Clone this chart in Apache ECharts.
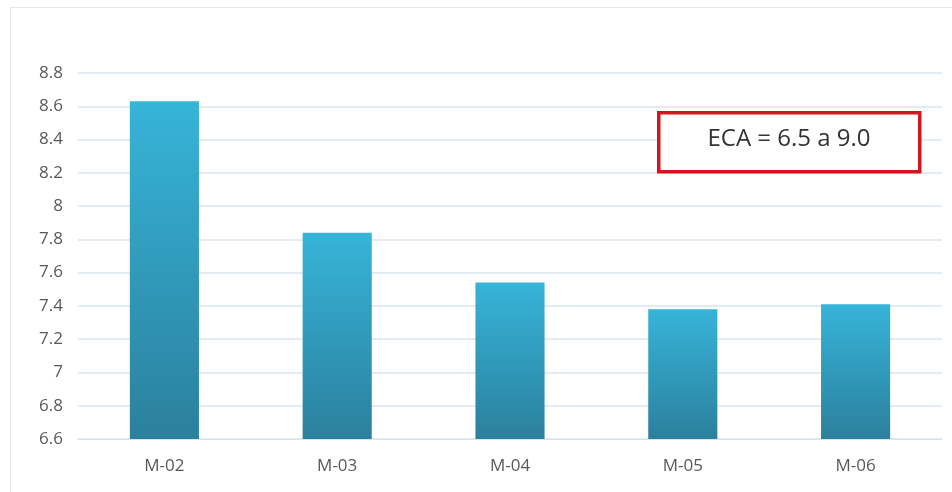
<!DOCTYPE html>
<html>
<head>
<meta charset="utf-8">
<script src="https://cdn.jsdelivr.net/npm/echarts@6/dist/echarts.min.js"></script>
<style>html,body{margin:0;padding:0;background:#fff}#c{width:952px;height:492px}</style>
</head>
<body>
<div id="c"></div>
<script>
var categories = ['M-02', 'M-03', 'M-04', 'M-05', 'M-06'];
var values = [8.63, 7.84, 7.54, 7.38, 7.41];
var yMin = 6.6, yMax = 8.8, yStep = 0.2;
var noteText = 'ECA = 6.5 a 9.0';

var chart = echarts.init(document.getElementById('c'));
chart.setOption({
  animation: false,
  backgroundColor: '#fff',
  grid: { left: 78, right: 10, top: 73, bottom: 53 },
  xAxis: {
    type: 'category',
    data: categories,
    axisLine: { show: true, lineStyle: { color: '#dbe3ea' } },
    axisTick: { show: false },
    axisLabel: { color: '#595959', fontSize: 17, fontFamily: 'Open Sans', margin: 19 }
  },
  yAxis: {
    type: 'value',
    min: yMin, max: yMax, interval: yStep,
    axisLine: { show: false },
    axisTick: { show: false },
    splitLine: { lineStyle: { color: '#dde5ee', width: 1.5 } },
    axisLabel: { color: '#595959', fontSize: 17, fontFamily: 'Open Sans', margin: 15 }
  },
  series: [{
    type: 'bar',
    data: values,
    barWidth: '40%',
    itemStyle: {
      color: new echarts.graphic.LinearGradient(0, 0, 0, 1, [
        { offset: 0, color: '#36b4d9' },
        { offset: 1, color: '#2b809d' }
      ])
    }
  }],
  graphic: [
    { type: 'rect', left: 8, top: 5, shape: { width: 960, height: 500 },
      style: { fill: 'none', stroke: '#e3e8ee', lineWidth: 1 }, silent: true },
    { type: 'rect', left: 657, top: 111, shape: { width: 261, height: 59 },
      style: { fill: '#fff', stroke: '#d0161e', lineWidth: 3.5 }, z: 100 },
    { type: 'text', x: 789, y: 139, z: 101,
      style: { text: noteText, fontSize: 24, fontFamily: 'Open Sans', fill: '#333',
               align: 'center', verticalAlign: 'middle' } }
  ]
});
</script>
</body>
</html>
